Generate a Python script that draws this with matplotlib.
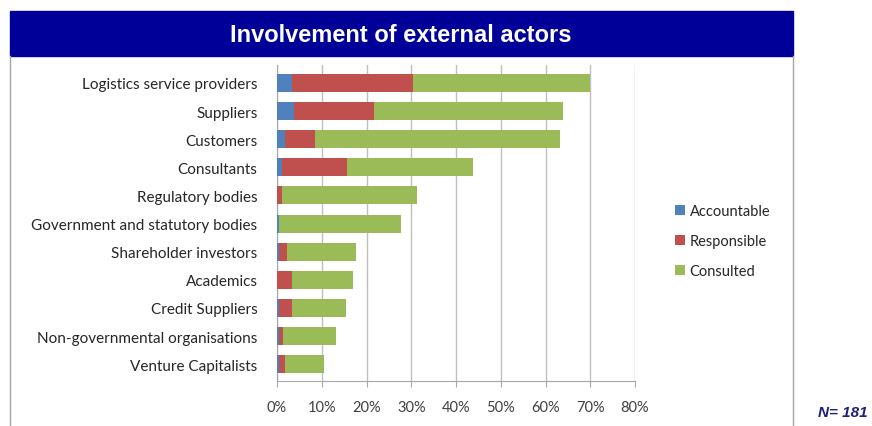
import numpy as np
import matplotlib.pyplot as plt
from matplotlib.patches import Rectangle

# Share of respondents (%) per role, per external actor
actors = [
    'Logistics service providers', 'Suppliers', 'Customers', 'Consultants',
    'Regulatory bodies', 'Government and statutory bodies', 'Shareholder investors',
    'Academics', 'Credit Suppliers', 'Non-governmental organisations', 'Venture Capitalists',
]
accountable = [3.3, 3.9, 1.8, 1.2, 0.0, 0.5, 0.5, 0.0, 0.5, 0.5, 0.5]
responsible = [27.1, 17.7, 6.6, 14.4, 1.2, 0.0, 1.8, 3.4, 2.9, 0.8, 1.3]
consulted = [39.5, 42.3, 54.9, 28.3, 30.1, 27.1, 15.3, 13.6, 12.1, 11.9, 8.6]
ticks = [0, 10, 20, 30, 40, 50, 60, 70, 80]

blue = '#4F81BD'
red = '#C0504D'
green = '#9BBB59'
label_font = 'Lato'

fig = plt.figure(figsize=(8.72, 4.27), dpi=100)
W, H = 872, 427

def fx(px):
    return px / W

def fy(py):
    return 1 - py / H

# title banner
fig.patches.append(Rectangle((fx(10), fy(57)), fx(793) - fx(10), fy(12) - fy(57),
                             transform=fig.transFigure, color='#000099', zorder=0))
fig.text(fx(401), fy(35), 'Involvement of external actors', color='white',
         fontsize=17, fontweight='bold', family='Liberation Sans', ha='center', va='center')

# frame of the chart box
for x in (10, 793):
    fig.lines.append(plt.Line2D([fx(x), fx(x)], [fy(57), 0], transform=fig.transFigure,
                                color='#A6A6A6', lw=1))

ax = fig.add_axes([fx(277), fy(382), fx(635) - fx(277), fy(66) - fy(382)])
y = np.arange(len(actors))
left = np.zeros(len(actors))
for vals, col, name in [(accountable, blue, 'Accountable'),
                        (responsible, red, 'Responsible'),
                        (consulted, green, 'Consulted')]:
    ax.barh(y, vals, left=left, color=col, height=0.64, label=name, zorder=3)
    left += np.array(vals)

ax.set_ylim(10.6, -0.64)
ax.set_xlim(0, 80)
ax.set_xticks(ticks)
ax.set_xticklabels([f'{t}%' for t in ticks], family=label_font, fontsize=10.5, color='#404040')
ax.set_yticks(y)
ax.set_yticklabels(actors, family=label_font, fontsize=11, color='#262626')
ax.grid(axis='x', color='#BFBFBF', lw=1, zorder=0)
for s in ('top', 'right'):
    ax.spines[s].set_visible(False)
for s in ('left', 'bottom'):
    ax.spines[s].set_color('#A6A6A6')
ax.tick_params(axis='y', length=0, pad=14)
ax.tick_params(axis='x', length=4, color='#A6A6A6', pad=10, direction='out')

ax.legend(loc='center left', bbox_to_anchor=(fx(662), fy(242)), bbox_transform=fig.transFigure,
          frameon=False, prop={'family': label_font, 'size': 10.5}, handlelength=0.7,
          handleheight=0.7, handletextpad=0.3, labelspacing=1.1, labelcolor='#262626')

fig.text(fx(818), fy(413), 'N= 181', color='#1F1F7A', fontsize=11, fontweight='bold',
         fontstyle='italic', family='Liberation Sans', va='center')

fig.savefig('out.png', dpi=100)
